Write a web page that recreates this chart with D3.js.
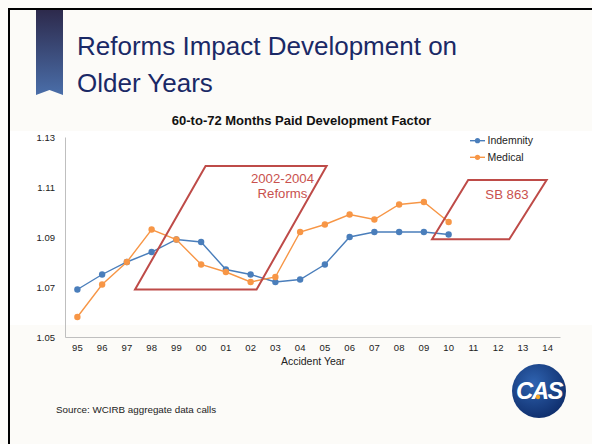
<!DOCTYPE html>
<html>
<head>
<meta charset="utf-8">
<script src="https://cdn.jsdelivr.net/npm/d3@7"></script>
<style>
  html, body { margin: 0; padding: 0; background: #fcfbf8; }
  svg { display: block; font-family: "Liberation Sans", Arial, sans-serif; }
</style>
</head>
<body>
<svg id="chart" width="592" height="444"></svg>
<script>
// ---- data ----
const years = ["95","96","97","98","99","00","01","02","03","04","05","06","07","08","09","10","11","12","13","14"];
const indemnity = [1.069,1.075,1.080,1.084,1.089,1.088,1.077,1.075,1.072,1.073,1.079,1.090,1.092,1.092,1.092,1.091];
const medical   = [1.058,1.071,1.080,1.093,1.089,1.079,1.076,1.072,1.074,1.092,1.095,1.099,1.097,1.103,1.104,1.096];
const yTicks = [1.05,1.07,1.09,1.11,1.13];
const seriesNames = ["Indemnity","Medical"];
const seriesColors = ["#4a7ebb","#f79646"];
// annotation parallelograms: [category index, value] corners
const reformsBox = [[2.33,1.069],[7.24,1.069],[10.07,1.1184],[5.18,1.1184]];
const sb863Box   = [[14.33,1.0891],[17.45,1.0891],[18.96,1.1128],[15.79,1.1128]];
const reformsLabel = ["2002-2004","Reforms"];
const sbLabel = "SB 863";

const svg = d3.select("#chart");

// slide background & frame
svg.append("rect").attr("x",0).attr("y",0).attr("width",592).attr("height",444).attr("fill","#fcfbf8");
svg.append("rect").attr("x",10).attr("y",131).attr("width",582).attr("height",194).attr("fill","#ffffff");
svg.append("line").attr("x1",9).attr("x2",592).attr("y1",9).attr("y2",9).attr("stroke","#000").attr("stroke-width",2);
svg.append("line").attr("x1",9).attr("x2",9).attr("y1",8).attr("y2",444).attr("stroke","#000").attr("stroke-width",2);

// ribbon
const defs = svg.append("defs");
const grad = defs.append("linearGradient").attr("id","rib").attr("x1",0).attr("y1",0).attr("x2",0).attr("y2",1);
grad.append("stop").attr("offset","0%").attr("stop-color","#2d2a4c");
grad.append("stop").attr("offset","100%").attr("stop-color","#4a6ea9");
svg.append("path").attr("d","M36,10 L63,10 L63,95 L49.5,90 L36,95 Z").attr("fill","url(#rib)");

// slide title
const title = svg.append("text").attr("fill","#1a2966").attr("font-size",26);
title.append("tspan").attr("x",77).attr("y",55).text("Reforms Impact Development on");
title.append("tspan").attr("x",77).attr("y",92).text("Older Years");

// scales
const x = d3.scaleBand().domain(years).range([65,560]);
const xi = d3.scaleLinear().domain([-0.5, years.length-0.5]).range([65,560]);
const y = d3.scaleLinear().domain([1.05,1.13]).range([337,137]);

// chart title
svg.append("text").attr("x",301.5).attr("y",124.5).attr("text-anchor","middle")
  .attr("font-size",13).attr("font-weight","bold").attr("fill","#111").text("60-to-72 Months Paid Development Factor");

// axes
const yAxis = svg.append("g").attr("transform","translate(65,0)")
  .call(d3.axisLeft(y).tickValues(yTicks).tickFormat(d3.format(".2f")).tickSize(0).tickPadding(10));
yAxis.select(".domain").attr("stroke","#bfbfbf");
yAxis.selectAll("text").attr("font-size",9.5).attr("fill","#222").attr("font-family","Liberation Sans, Arial, sans-serif");

const xAxis = svg.append("g").attr("transform","translate(0,337)")
  .call(d3.axisBottom(x).tickSize(0).tickPadding(7));
xAxis.select(".domain").attr("stroke","#bfbfbf");
xAxis.selectAll("text").attr("font-size",9.5).attr("fill","#222").attr("font-family","Liberation Sans, Arial, sans-serif");

svg.append("text").attr("x",313).attr("y",365).attr("text-anchor","middle")
  .attr("font-size",10.5).attr("fill","#222").text("Accident Year");

// series
const series = [indemnity, medical];
const line = d3.line().x((d,i)=>x(years[i])+x.bandwidth()/2).y(d=>y(d));
series.forEach((vals,si)=>{
  svg.append("path").datum(vals).attr("d",line).attr("fill","none")
    .attr("stroke",seriesColors[si]).attr("stroke-width",1.4);
  svg.append("g").selectAll("circle").data(vals).join("circle")
    .attr("cx",(d,i)=>x(years[i])+x.bandwidth()/2).attr("cy",d=>y(d)).attr("r",3.2)
    .attr("fill",seriesColors[si]);
});

// annotation boxes
const poly = d3.line().x(d=>xi(d[0])).y(d=>y(d[1]));
[reformsBox, sb863Box].forEach(b=>{
  svg.append("path").attr("d",poly(b)+"Z").attr("fill","none")
    .attr("stroke","#be4b48").attr("stroke-width",2);
});
svg.append("text").attr("x",282.5).attr("y",182.5).attr("text-anchor","middle")
  .attr("font-size",13.2).attr("fill","#c9514e").text(reformsLabel[0]);
svg.append("text").attr("x",282.5).attr("y",197.5).attr("text-anchor","middle")
  .attr("font-size",13.2).attr("fill","#c9514e").text(reformsLabel[1]);
svg.append("text").attr("x",507).attr("y",199).attr("text-anchor","middle")
  .attr("font-size",13.2).attr("fill","#c9514e").text(sbLabel);

// legend
seriesNames.forEach((n,i)=>{
  const ly = 140.7 + i*16.6;
  svg.append("line").attr("x1",470).attr("x2",485).attr("y1",ly).attr("y2",ly)
    .attr("stroke",seriesColors[i]).attr("stroke-width",1.4);
  svg.append("circle").attr("cx",477.5).attr("cy",ly).attr("r",2.6).attr("fill",seriesColors[i]);
  svg.append("text").attr("x",487.5).attr("y",ly+3.7).attr("font-size",10.5).attr("fill","#222").text(n);
});

// source
svg.append("text").attr("x",56).attr("y",413).attr("font-size",9.8).attr("fill","#222")
  .text("Source: WCIRB aggregate data calls");

// CAS logo
const lg = defs.append("radialGradient").attr("id","logo").attr("cx","40%").attr("cy","35%").attr("r","70%");
lg.append("stop").attr("offset","0%").attr("stop-color","#2f63b0");
lg.append("stop").attr("offset","100%").attr("stop-color","#0e2d6b");
svg.append("circle").attr("cx",539).attr("cy",391).attr("r",27).attr("fill","url(#logo)");
svg.append("text").attr("x",539).attr("y",399).attr("text-anchor","middle")
  .attr("font-size",24).attr("font-weight","bold").attr("font-style","italic")
  .attr("fill","#ffffff").attr("letter-spacing",-1.5).text("CAS");
svg.append("circle").attr("cx",538).attr("cy",397).attr("r",2.2).attr("fill","#f5a623");
</script>
</body>
</html>
